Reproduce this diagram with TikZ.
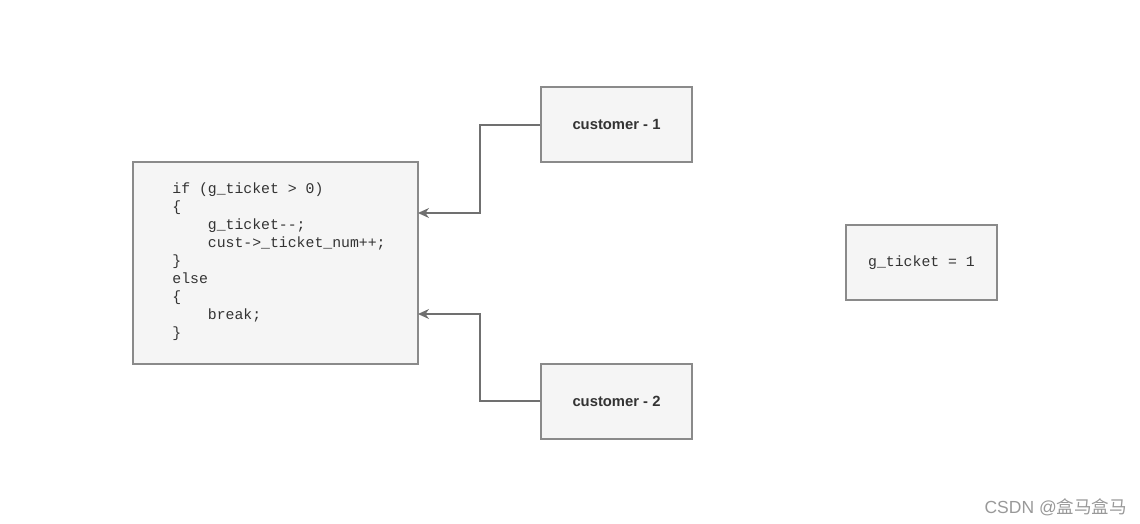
\documentclass[tikz,border=0pt]{standalone}
\usepackage{fontspec}
\setmainfont{Liberation Sans}
\newfontfamily\codefont{Liberation Mono}
\newfontfamily\cjk{Noto Sans CJK SC}
\usetikzlibrary{arrows.meta}
\definecolor{boxfill}{HTML}{F5F5F5}
\definecolor{boxline}{HTML}{8A8A8A}
\definecolor{arrowline}{HTML}{707070}
\definecolor{txt}{HTML}{333333}
\definecolor{wm}{HTML}{999999}
\tikzset{
  box/.style={draw=boxline, fill=boxfill, line width=1.4pt, inner sep=0pt, text=txt},
  custbox/.style={box, minimum width=151pt, minimum height=75pt, font=\bfseries\fontsize{14.8}{17}\selectfont},
  conn/.style={draw=arrowline, line width=1.4pt, -{Stealth[length=11pt,width=10pt]}},
  codetxt/.style={text=txt, inner sep=0pt, align=left, font=\codefont\fontsize{14.8}{18}\selectfont},
}
\begin{document}
\begin{tikzpicture}[x=1pt,y=-1pt]
\useasboundingbox (0,0) rectangle (1140,524);
\node[box, minimum width=285pt, minimum height=202pt] (code) at (275.5,263) {};
\node[codetxt] (codetext) at (279,262)
  {if (g\_ticket > 0)\\
   \{\\
   \hspace*{2.4em}g\_ticket-{}-;\\
   \hspace*{2.4em}cust->\_ticket\_num++;\\
   \}\\
   else\\
   \{\\
   \hspace*{2.4em}break;\\
   \}};
\node[custbox] (c1) at (616.5,124.5) {customer - 1};
\node[custbox] (c2) at (616.5,401.5) {customer - 2};
\node[box, minimum width=151pt, minimum height=75pt, font=\codefont\fontsize{14.8}{18}\selectfont] (g) at (921.5,262.5) {g\_ticket = 1};
\coordinate (t1) at (418,213);
\coordinate (t2) at (418,314);
\draw[conn] ([yshift=-0.5pt]c1.west) -- (480,125) |- (t1);
\draw[conn] ([yshift=0.5pt]c2.west) -- (480,401) |- (t2);
\node[text=wm, font=\fontsize{17.5}{20}\selectfont, anchor=east, inner sep=0pt] (wmk) at (1127,507) {CSDN @{\cjk 盒马盒马}};
\end{tikzpicture}
\end{document}
